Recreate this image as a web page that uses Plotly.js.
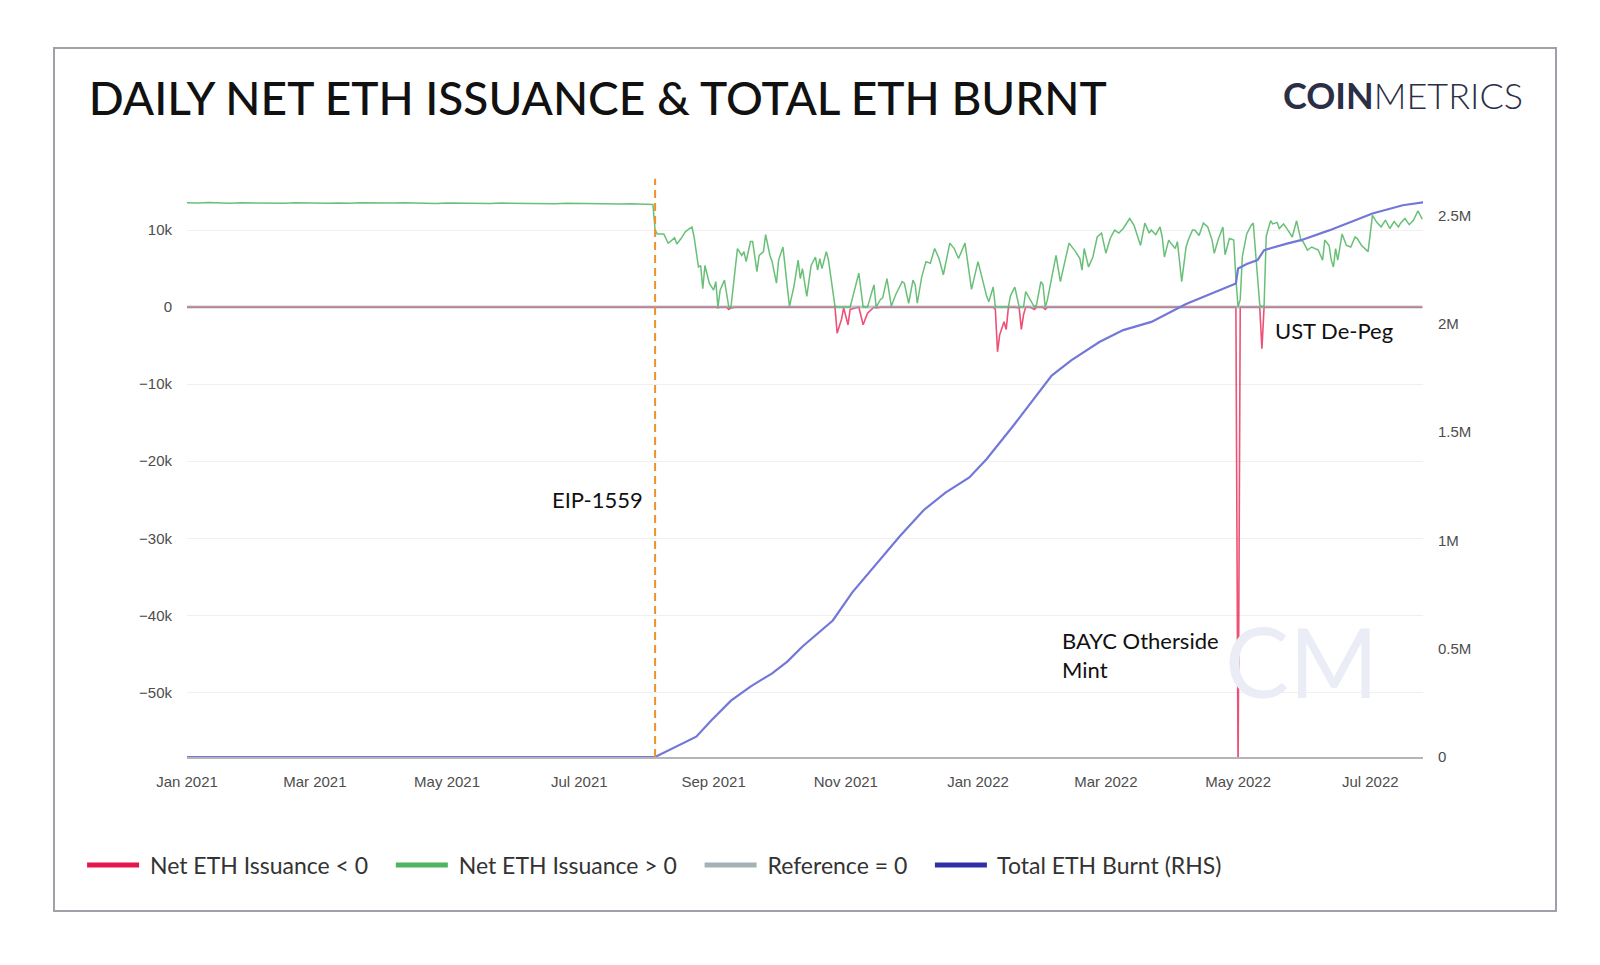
<!DOCTYPE html>
<html>
<head>
<meta charset="utf-8">
<script src="https://cdn.plot.ly/plotly-3.0.1.min.js"></script>
<style>
  html, body { margin: 0; padding: 0; background: #ffffff; }
  #chart { width: 1600px; height: 965px; }
</style>
</head>
<body>
<div id="chart"></div>
<script>
// ---------------- DATA ----------------
const START_DATE = '2021-01-01';
const EIP_1559_DATE = '2021-08-05';

// Net ETH issuance: day offsets from START_DATE and values (ETH / day)
const issuanceDays = [
  0,5,10,15,20,25,30,35,40,45,50,55,60,65,70,75,80,85,90,95,100,105,110,115,120,125,130,135,140,145,
  150,155,160,165,170,175,180,185,190,195,200,205,210,215,
  216,217,220,222,223,225,226,228,230,233,234,236,237,238,239,241,243,244,245,246,248,249,250,251,
  253,254,256,257,258,260,261,263,264,266,267,269,270,272,273,275,277,278,280,282,283,284,286,288,
  290,291,292,293,295,296,299,300,302,303,305,306,310,312,314,317,318,320,321,323,325,327,330,331,
  333,335,336,337,339,341,343,345,347,349,352,354,356,357,359,360,362,365,367,369,370,372,373,374,
  375,377,378,379,380,382,384,385,386,387,389,391,392,394,395,396,397,400,401,403,405,407,410,412,
  413,414,416,418,420,422,424,426,428,430,432,435,437,440,442,444,445,447,449,450,451,453,454,456,
  457,459,461,462,464,465,467,469,471,473,474,476,478,479,481,483,484,485,486,487,489,491,492,493,
  494,495,496,497,498,500,501,503,504,506,508,510,512,514,515,517,519,522,524,525,527,528,529,530,
  531,533,535,537,539,540,542,544,545,547,549,551,553,555,557,559,560,562,564,566,568,570
];
const issuanceValues = [
  13550,13500,13560,13520,13480,13540,13510,13560,13500,13470,13530,13500,13550,13490,13520,13480,13540,13500,13460,13510,
  13530,13480,13500,13450,13520,13490,13470,13510,13460,13500,13480,13440,13490,13460,13420,13470,13440,13400,13450,13420,
  13380,13400,13360,13330,
  10000,9500,9500,8300,8500,9000,8200,8900,9800,10400,9100,5200,5400,2400,5400,3100,2200,3300,-100,2200,3500,2000,-300,-100,
  5400,7600,6700,7200,5900,8500,8500,4600,6700,7200,9400,6700,5900,3100,6100,7800,2600,100,2600,6100,3700,5000,1400,5400,
  6500,4800,6300,5000,7200,6100,100,-3400,-1600,-100,-2300,-300,4400,-2300,-800,2900,-100,1000,1200,3700,100,1600,3300,3100,
  500,3500,2900,500,3900,5900,5700,7600,6300,4200,8300,7600,6300,7000,8300,6300,2300,5900,3700,1400,700,2600,-300,-5800,
  -3600,-1900,-2900,-100,1500,2600,-100,-2900,-1000,2000,900,-300,300,3300,2900,-300,900,5200,6700,3300,5700,8300,7200,6300,
  4800,7600,5200,6500,9100,9600,7000,8900,10000,9600,10200,11500,10600,8000,10900,9600,10000,9400,10400,9100,6500,8700,8300,7600,
  8500,3300,7800,8700,10000,10000,9300,10900,10400,8700,7000,8900,10400,6800,8900,8700,3700,-60500,1000,6600,9500,10600,10900,7400,
  3900,300,-5400,200,9200,11200,10800,11000,10200,10800,10000,9100,11200,8700,8500,7400,7800,7400,6100,8700,8000,6100,5200,7600,
  6100,9500,8000,7800,9100,8900,8000,7400,7200,11900,11000,10400,11300,10200,11100,10400,10900,11500,10700,11300,12500,11400
];

// Total ETH burnt (cumulative, RHS): day offsets and values (ETH)
const burntDays = [
  0,216,235,242,251,260,270,277,284,291,298,307,317,329,340,350,361,369,381,390,399,408,421,432,445,
  461,475,484,485,489,494,497,508,514,527,537,547,561,571
];
const burntValues = [
  0,0,94000,170000,260000,325000,386000,440000,510000,570000,630000,760000,880000,1020000,1140000,1220000,
  1290000,1375000,1525000,1640000,1760000,1830000,1915000,1970000,2008000,2090000,2150000,2185000,2254000,
  2275000,2293000,2339000,2370000,2385000,2430000,2469000,2508000,2546000,2560000
];

// Axis ticks
const leftTickVals = [-50000,-40000,-30000,-20000,-10000,0,10000];
const leftTickText = ['\u221250k','\u221240k','\u221230k','\u221220k','\u221210k','0','10k'];
const rightTickVals = [0,500000,1000000,1500000,2000000,2500000];
const rightTickText = ['0','0.5M','1M','1.5M','2M','2.5M'];
const xTickVals = ['2021-01-01','2021-03-01','2021-05-01','2021-07-01','2021-09-01','2021-11-01',
                   '2022-01-01','2022-03-01','2022-05-01','2022-07-01'];

const seriesNames = ['Net ETH Issuance < 0','Net ETH Issuance > 0','Reference = 0','Total ETH Burnt (RHS)'];

// ---------------- HELPERS ----------------
const startMs = Date.parse(START_DATE + 'T00:00:00Z');
const toDate = d => new Date(startMs + d * 86400000).toISOString().slice(0, 10);

const issX = issuanceDays.map(toDate);
const negY = issuanceValues.map(v => Math.min(v, 0));
const posY = issuanceValues.map(v => Math.max(v, 0));
const burntX = burntDays.map(toDate);
const refX = [issX[0], issX[issX.length - 1]];
const refY = [0, 0];

const NB = '\u00a0';
const legendLabel = (name, last) => NB + name + (last ? '' : NB + NB + NB);

// ---------------- TRACES ----------------
const traces = [
  { x: issX, y: negY, mode: 'lines', yaxis: 'y', showlegend: false, hoverinfo: 'skip',
    opacity: 0.75, line: { color: '#e8164a', width: 1.6 } },
  { x: refX, y: refY, mode: 'lines', yaxis: 'y', showlegend: false, hoverinfo: 'skip',
    opacity: 0.6, line: { color: '#9aa7ae', width: 3 } },
  { x: issX, y: posY, mode: 'lines', yaxis: 'y', showlegend: false, hoverinfo: 'skip',
    opacity: 0.85, line: { color: '#4db560', width: 1.5 } },
  { x: burntX, y: burntValues, mode: 'lines', yaxis: 'y2', showlegend: false, hoverinfo: 'skip',
    line: { color: '#7377d8', width: 2.2 } },
  // legend entries
  { x: [issX[0]], y: [null], mode: 'lines', name: legendLabel(seriesNames[0]), line: { color: '#e3174c', width: 5 } },
  { x: [issX[0]], y: [null], mode: 'lines', name: legendLabel(seriesNames[1]), line: { color: '#4cb55e', width: 5 } },
  { x: [issX[0]], y: [null], mode: 'lines', name: legendLabel(seriesNames[2]), line: { color: '#a4b2b8', width: 5 } },
  { x: [issX[0]], y: [null], mode: 'lines', name: legendLabel(seriesNames[3], true), line: { color: '#3030a6', width: 5 } }
];

const tickFont = { family: 'Liberation Sans, Arial, sans-serif', size: 15, color: '#4d4d4d' };
const annFont = { family: 'Lato, sans-serif', size: 22, color: '#111111' };

const layout = {
  width: 1600, height: 965,
  paper_bgcolor: '#ffffff', plot_bgcolor: '#ffffff',
  margin: { l: 187, r: 177, t: 190, b: 208, pad: 0 },
  showlegend: true,
  hovermode: false,
  title: {
    text: 'DAILY NET ETH ISSUANCE & TOTAL ETH BURNT',
    xref: 'container', yref: 'container',
    x: 0.0555, xanchor: 'left', y: 0.8974, yanchor: 'middle',
    font: { family: 'Lato, sans-serif', size: 46, color: '#111111', weight: 500 }
  },
  xaxis: {
    type: 'date',
    range: ['2021-01-01', '2022-07-25 08:00'],
    tickvals: xTickVals, tickformat: '%b %Y',
    ticks: '', ticklabelstandoff: 10,
    showgrid: false, zeroline: false,
    showline: true, linecolor: '#b5b5b5', linewidth: 2,
    tickfont: tickFont, fixedrange: true
  },
  yaxis: {
    range: [-58391, 15198],
    tickvals: leftTickVals, ticktext: leftTickText,
    ticks: '', ticklabelstandoff: 14,
    showgrid: true, gridcolor: '#f0f0f0', gridwidth: 1,
    zeroline: false, showline: false,
    tickfont: tickFont, fixedrange: true
  },
  yaxis2: {
    overlaying: 'y', side: 'right',
    range: [0, 2616500],
    tickvals: rightTickVals, ticktext: rightTickText,
    ticks: '', ticklabelstandoff: 14,
    showgrid: false, zeroline: false, showline: false,
    tickfont: tickFont, fixedrange: true
  },
  legend: {
    orientation: 'h', xref: 'container', yref: 'container',
    x: 0.0513, xanchor: 'left', y: 0.1036, yanchor: 'middle',
    font: { family: 'Lato, sans-serif', size: 23, color: '#333333' },
    itemwidth: 52, traceorder: 'normal', bgcolor: 'rgba(0,0,0,0)'
  },
  shapes: [
    { type: 'rect', xref: 'paper', yref: 'paper', x0: -0.1076, x1: 1.1076, y0: -0.2716, y1: 1.2504,
      line: { color: '#9fa1a9', width: 2 }, fillcolor: 'rgba(0,0,0,0)', layer: 'below' },
    { type: 'line', xref: 'x', yref: 'paper', x0: EIP_1559_DATE, x1: EIP_1559_DATE, y0: 0, y1: 1.02,
      line: { color: '#f0902a', width: 2, dash: '8px,5px' } }
  ],
  annotations: [
    { text: 'CM', xref: 'paper', yref: 'paper', x: 0.9015, y: 0.171, xanchor: 'center', yanchor: 'middle',
      showarrow: false, font: { family: 'Lato, sans-serif', size: 96, color: '#eaedf5', weight: 400 } },
    { text: '<b>COIN</b>METRICS', xref: 'paper', yref: 'paper', x: 1.0825, y: 1.1675,
      xanchor: 'right', yanchor: 'middle', showarrow: false,
      font: { family: 'Lato, sans-serif', size: 36, color: '#2b2e45', weight: 300 } },
    { text: 'EIP-1559', xref: 'x', yref: 'y', x: EIP_1559_DATE, y: -25000, xanchor: 'right', yanchor: 'middle',
      xshift: -10, showarrow: false, font: annFont },
    { text: 'UST De-Peg', xref: 'x', yref: 'y', x: '2022-05-17', y: -3100, xanchor: 'left', yanchor: 'middle',
      showarrow: false, font: annFont },
    { text: 'BAYC Otherside<br>Mint', xref: 'x', yref: 'y', x: '2022-02-08', y: -45200, xanchor: 'left',
      yanchor: 'middle', align: 'left', showarrow: false, font: annFont }
  ]
};

Plotly.newPlot('chart', traces, layout, { displayModeBar: false, staticPlot: true });
</script>
</body>
</html>
